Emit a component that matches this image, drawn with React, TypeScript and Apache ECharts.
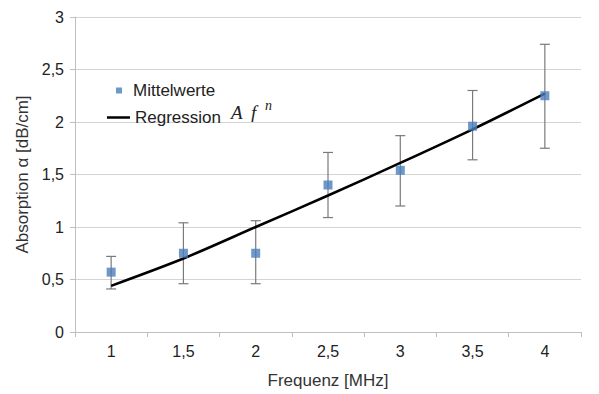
import React, { useEffect, useRef } from "react";
import * as echarts from "echarts";

const categories = ["1", "1,5", "2", "2,5", "3", "3,5", "4"];
const meanValues = [0.57, 0.75, 0.75, 1.4, 1.54, 1.96, 2.25];
const errLow = [0.41, 0.46, 0.46, 1.09, 1.2, 1.64, 1.75];
const errHigh = [0.72, 1.04, 1.06, 1.71, 1.87, 2.3, 2.74];
const regressionValues = [0.44, 0.7, 1.0, 1.3, 1.61, 1.93, 2.27];
const yTicks = { min: 0, max: 3, interval: 0.5 };

const FONT = "'Liberation Sans', Arial, sans-serif";
const MATH = "'Liberation Serif', 'DejaVu Serif', serif";

export default function App() {
  const ref = useRef<HTMLDivElement>(null);
  useEffect(() => {
    if (!ref.current) return;
    const chart = echarts.init(ref.current, null, { renderer: "svg" });
    const errData = categories.map((_, i) => [i, errLow[i], errHigh[i]]);
    const mathText = (text: string, x: number, y: number, size: number) => ({
      type: "text",
      x,
      y,
      style: {
        text,
        fontFamily: MATH,
        fontStyle: "italic",
        fontSize: size,
        fill: "#222",
        verticalAlign: "middle",
      },
    });
    chart.setOption({
      animation: false,
      backgroundColor: "#ffffff",
      textStyle: { fontFamily: FONT },
      grid: { left: 75, right: 18, top: 17, bottom: 61, containLabel: false },
      legend: [
        {
          data: [{ name: "Mittelwerte", icon: "rect" }],
          left: 111,
          top: 77,
          itemWidth: 6,
          itemHeight: 6,
          textStyle: { fontFamily: FONT, fontSize: 17, color: "#222", padding: [0, 0, 0, 6] },
        },
        {
          data: [{ name: "Regression", icon: "rect" }],
          left: 102,
          top: 104,
          itemWidth: 23,
          itemHeight: 2.5,
          itemStyle: { color: "#000000" },
          textStyle: { fontFamily: FONT, fontSize: 17, color: "#222" },
        },
      ],
      graphic: [
        mathText("A", 231, 112, 19),
        mathText("f", 251, 112, 19),
        mathText("n", 265, 105.5, 14),
      ],
      xAxis: {
        type: "category",
        data: categories,
        boundaryGap: true,
        name: "Frequenz [MHz]",
        nameLocation: "middle",
        nameGap: 40,
        nameTextStyle: { fontFamily: FONT, fontSize: 17, color: "#333" },
        axisLine: { lineStyle: { color: "#bfbfbf", width: 1 } },
        axisTick: { show: true, length: 5, lineStyle: { color: "#bfbfbf" } },
        axisLabel: { fontFamily: FONT, fontSize: 16, color: "#222", margin: 11 },
        splitLine: { show: false },
      },
      yAxis: {
        type: "value",
        min: yTicks.min,
        max: yTicks.max,
        interval: yTicks.interval,
        name: "Absorption α [dB/cm]",
        nameLocation: "middle",
        nameGap: 41,
        nameTextStyle: { fontFamily: FONT, fontSize: 17, color: "#333" },
        axisLine: { show: true, lineStyle: { color: "#bfbfbf", width: 1 } },
        axisTick: { show: true, length: 5, lineStyle: { color: "#bfbfbf" } },
        axisLabel: {
          fontFamily: FONT,
          fontSize: 16,
          color: "#222",
          margin: 11,
          formatter: (v: number) => String(v).replace(".", ","),
        },
        splitLine: { show: true, lineStyle: { color: "#d4d4d4", width: 1 } },
      },
      series: [
        {
          type: "custom",
          name: "err",
          z: 1,
          silent: true,
          data: errData,
          encode: { x: 0, y: [1, 2] },
          renderItem: (params: any, api: any) => {
            const idx = api.value(0);
            const lo = api.coord([idx, api.value(1)]);
            const hi = api.coord([idx, api.value(2)]);
            const hw = 5;
            const style = { stroke: "#7a7a7a", lineWidth: 1.2 };
            return {
              type: "group",
              children: [
                { type: "line", shape: { x1: lo[0], y1: lo[1], x2: hi[0], y2: hi[1] }, style },
                { type: "line", shape: { x1: lo[0] - hw, y1: lo[1], x2: lo[0] + hw, y2: lo[1] }, style },
                { type: "line", shape: { x1: hi[0] - hw, y1: hi[1], x2: hi[0] + hw, y2: hi[1] }, style },
              ],
            };
          },
        },
        {
          type: "line",
          name: "Regression",
          z: 2,
          data: regressionValues,
          smooth: 0.3,
          symbol: "none",
          lineStyle: { color: "#000000", width: 2.5 },
          itemStyle: { color: "#000000" },
        },
        {
          type: "scatter",
          name: "Mittelwerte",
          z: 3,
          data: meanValues,
          symbol: "rect",
          symbolSize: 9,
          itemStyle: { color: "#4A7EBB" },
        },
      ],
    });
    return () => chart.dispose();
  }, []);
  return (
    <div
      ref={ref}
      style={{ position: "absolute", left: 0, top: 0, width: 599, height: 394 }}
    />
  );
}
